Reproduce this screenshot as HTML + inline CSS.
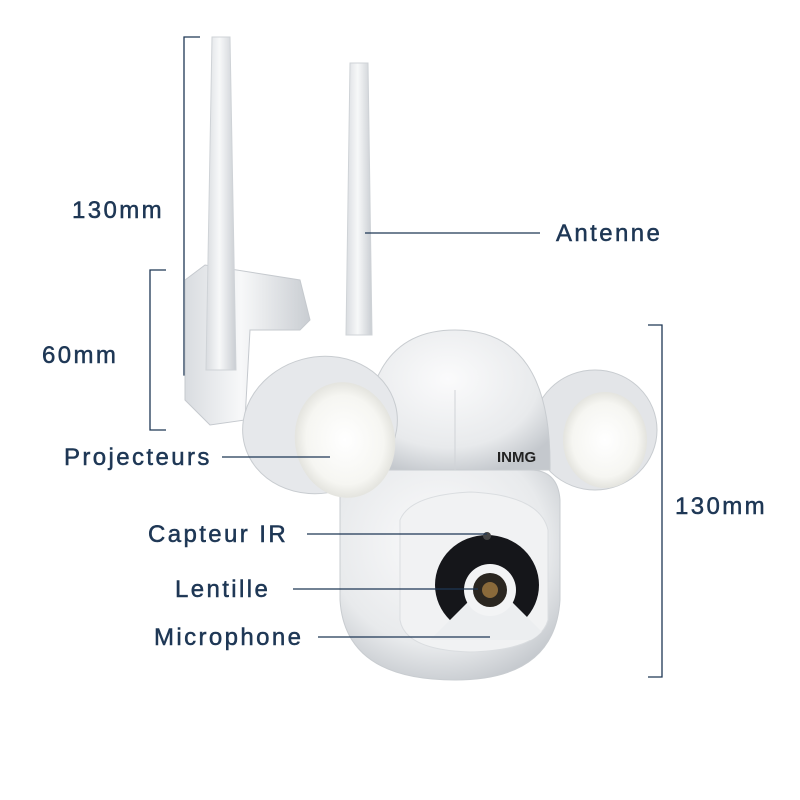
<!DOCTYPE html>
<html><head><meta charset="utf-8"><style>
html,body{margin:0;padding:0;background:#fff;}
svg{display:block}
text{font-family:"Liberation Sans",sans-serif;font-size:24px;letter-spacing:2.4px;fill:#1e3755;stroke:#1e3755;stroke-width:0.5px}
</style></head><body>
<svg width="800" height="800" viewBox="0 0 800 800" xmlns="http://www.w3.org/2000/svg">
<defs>
<linearGradient id="g1" x1="0" y1="0" x2="1" y2="0"><stop offset="0" stop-color="#d9dce0"/><stop offset="0.45" stop-color="#f7f8f9"/><stop offset="1" stop-color="#c9cdd2"/></linearGradient>
<radialGradient id="dome" cx="0.45" cy="0.35" r="0.7"><stop offset="0" stop-color="#fbfbfc"/><stop offset="0.7" stop-color="#e8eaec"/><stop offset="1" stop-color="#c4c8cd"/></radialGradient>
<radialGradient id="lamp" cx="0.5" cy="0.5" r="0.55"><stop offset="0" stop-color="#ffffff"/><stop offset="0.7" stop-color="#f6f6f2"/><stop offset="1" stop-color="#dcdcd6"/></radialGradient>
<clipPath id="fc"><path d="M400,520 Q410,495 470,492 Q540,495 548,530 L548,620 Q540,650 470,652 Q405,650 400,620 Z"/></clipPath>
</defs>
<g stroke="#1e3755" stroke-width="1.3" fill="none">
<polyline points="200,37 184,37 184,375 200,375"/>
<polyline points="166,270 150,270 150,430 166,430"/>
<polyline points="648,325 662,325 662,677 648,677"/>
</g>
<path d="M185,280 L205,265 L300,280 L310,320 L300,330 L250,330 L245,420 L210,425 L185,400 Z" fill="url(#g1)" stroke="#c5c9ce"/>
<path d="M212,37 L230,37 L236,370 L206,370 Z" fill="url(#g1)" stroke="#cfd3d7"/>
<path d="M350,63 L368,63 L372,335 L346,335 Z" fill="url(#g1)" stroke="#cfd3d7"/>
<ellipse cx="595" cy="430" rx="62" ry="60" fill="#e3e5e8" stroke="#c8ccd0"/>
<ellipse cx="605" cy="440" rx="42" ry="48" fill="url(#lamp)"/>
<path d="M340,490 Q345,470 380,470 L530,470 Q558,470 560,500 L560,600 Q555,680 455,680 Q345,680 340,600 Z" fill="url(#dome)" stroke="#c8ccd0"/>
<path d="M400,520 Q410,495 470,492 Q540,495 548,530 L548,620 Q540,650 470,652 Q405,650 400,620 Z" fill="#f1f2f3" stroke="#dadde0"/>
<g clip-path="url(#fc)">
<ellipse cx="487" cy="585" rx="52" ry="50" fill="#15161a"/>
<path d="M430,640 L470,600 L510,600 L550,640 Z" fill="#eceef0"/>
</g>
<circle cx="490" cy="590" r="26" fill="#f3f4f5"/>
<circle cx="490" cy="590" r="17" fill="#2a2620"/>
<circle cx="490" cy="590" r="8" fill="#8a6a3a"/>
<circle cx="487" cy="536" r="4" fill="#444"/>
<path d="M365,470 Q358,330 455,330 Q552,330 550,470 Z" fill="url(#dome)" stroke="#c8ccd0"/>
<line x1="455" y1="390" x2="455" y2="470" stroke="#d0d3d7"/>
<text x="497" y="462" style="font-size:15px;letter-spacing:0;font-weight:bold;fill:#222;stroke:none">INMG</text>
<ellipse cx="320" cy="425" rx="78" ry="68" fill="#e6e8eb" stroke="#c8ccd0" transform="rotate(-15 320 425)"/>
<ellipse cx="345" cy="440" rx="50" ry="58" fill="url(#lamp)" transform="rotate(-10 345 440)"/>
<g stroke="#1e3755" stroke-width="1.3">
<line x1="365" y1="233" x2="540" y2="233"/>
<line x1="222" y1="457" x2="330" y2="457"/>
<line x1="307" y1="534" x2="487" y2="534"/>
<line x1="293" y1="589" x2="478" y2="589"/>
<line x1="318" y1="637" x2="490" y2="637"/>
</g>
<text x="72" y="218">130mm</text>
<text x="42" y="363">60mm</text>
<text x="675" y="514">130mm</text>
<text x="556" y="241">Antenne</text>
<text x="64" y="465">Projecteurs</text>
<text x="148" y="542">Capteur IR</text>
<text x="175" y="597">Lentille</text>
<text x="154" y="645">Microphone</text>
</svg>
</body></html>
